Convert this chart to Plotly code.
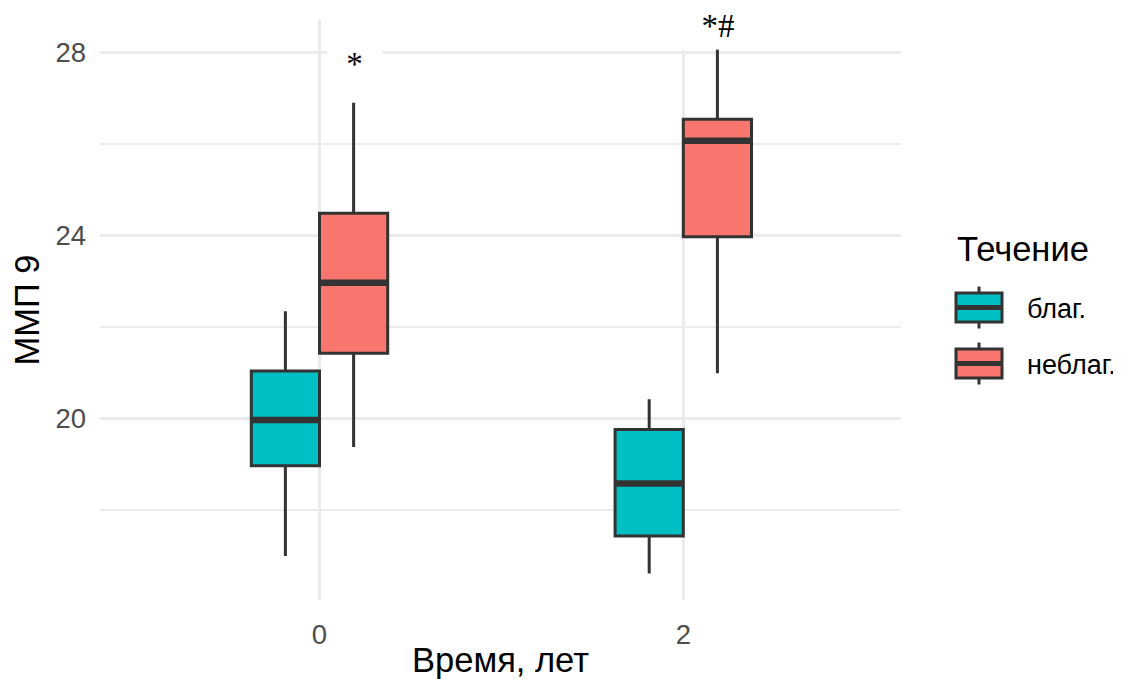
import plotly.graph_objects as go

# ---------------- data ----------------
times = [0, 2]
groups = ["благ.", "неблаг."]
group_colors = ["#00BFC4", "#F8766D"]

blag_low = [16.98, 16.60]
blag_q1 = [18.96, 17.42]
blag_med = [19.96, 18.57]
blag_q3 = [21.03, 19.75]
blag_high = [22.34, 20.41]

nebl_low = [19.37, 20.98]
nebl_q1 = [21.42, 23.97]
nebl_med = [22.96, 26.07]
nebl_q3 = [24.48, 26.54]
nebl_high = [26.90, 28.07]

y_ticks = [20, 24, 28]
x_ticks = [0, 2]
signif_labels = ["*", "*#"]

x_title = "Время, лет"
y_title = "ММП 9"
legend_title = "Течение"

# ---------------- style ----------------
OFF = 8  # page body margin
W, H = 1121 - OFF, 679 - OFF
# plot area in screen pixels
SL, SR, ST, SB = 100, 901, 20, 600
PL, PR, PT, PB = SL - OFF, SR - OFF, ST - OFF, SB - OFF
GRID = "#EBEBEB"
EDGE = "#333333"
TICKC = "#4D4D4D"
SANS = "Liberation Sans, Arial, sans-serif"
SERIF = "Liberation Serif, Times New Roman, serif"
DODGE = 0.75
TICK_SIZE = 27.5
TITLE_SIZE = 34.5
LW = 3

def xp(sx):
    return (sx - SL) / (SR - SL)

def yp(sy):
    return (SB - sy) / (SB - ST)

stats = [
    (blag_low, blag_q1, blag_med, blag_q3, blag_high),
    (nebl_low, nebl_q1, nebl_med, nebl_q3, nebl_high),
]
ngrp = len(groups)
bw = DODGE / ngrp

fig = go.Figure()
for gi, (name, col, (lo, q1, md, q3, hi)) in enumerate(zip(groups, group_colors, stats)):
    fig.add_trace(go.Box(
        x=times, q1=q1, median=md, q3=q3, lowerfence=lo, upperfence=hi,
        name=name, fillcolor=col, line=dict(color=EDGE, width=LW),
        whiskerwidth=0, boxpoints=False, showlegend=False, hoverinfo="skip",
    ))

# thicker median lines (ggplot style)
for gi, (lo, q1, md, q3, hi) in enumerate(stats):
    off = -DODGE / 2 + (gi + 0.5) * bw
    xs, ys = [], []
    for t, m in zip(times, md):
        xs += [t + off - bw / 2, t + off + bw / 2, None]
        ys += [m, m, None]
    fig.add_trace(go.Scatter(x=xs, y=ys, mode="lines",
                             line=dict(color=EDGE, width=6.5),
                             showlegend=False, hoverinfo="skip"))

# significance labels with white background (screen px)
sig_boxes = [  # (center x, center y, width, height)
    (354.5, 64, 55, 68),
    (718, 26, 84, 46),
]
for lab, (cx, cy, bwpx, bhpx) in zip(signif_labels, sig_boxes):
    fig.add_annotation(x=xp(cx), y=yp(cy), xref="paper", yref="paper",
                       text=lab, showarrow=False, xanchor="center", yanchor="middle",
                       width=bwpx, height=bhpx, bgcolor="white", borderpad=0,
                       font=dict(family=SERIF, size=33, color="black"))

# custom legend (screen px)
fig.add_annotation(x=xp(955), y=yp(249), xref="paper", yref="paper",
                   text=legend_title, showarrow=False, xanchor="left", yanchor="middle",
                   font=dict(family=SANS, size=TITLE_SIZE, color="black"))
key_centers = [307.5, 363.5]
for name, col, cy in zip(groups, group_colors, key_centers):
    x0, x1 = 956, 1002
    xm = (x0 + x1) / 2
    fig.add_shape(type="line", xref="paper", yref="paper",
                  x0=xp(xm), x1=xp(xm), y0=yp(cy - 21), y1=yp(cy + 21),
                  line=dict(color=EDGE, width=LW))
    fig.add_shape(type="rect", xref="paper", yref="paper",
                  x0=xp(x0), x1=xp(x1), y0=yp(cy - 14.5), y1=yp(cy + 14.5),
                  fillcolor=col, line=dict(color=EDGE, width=LW))
    fig.add_shape(type="line", xref="paper", yref="paper",
                  x0=xp(x0), x1=xp(x1), y0=yp(cy), y1=yp(cy),
                  line=dict(color=EDGE, width=5))
    fig.add_annotation(x=xp(1025), y=yp(cy + 1), xref="paper", yref="paper",
                       text=name, showarrow=False, xanchor="left", yanchor="middle",
                       font=dict(family=SANS, size=27, color="black"))

x_lo = (SL - 319.5) / 181.9
x_hi = (SR - 319.5) / 181.9

fig.update_layout(
    width=W, height=H,
    margin=dict(l=PL, r=W - PR, t=PT, b=H - PB, autoexpand=False),
    paper_bgcolor="white", plot_bgcolor="white",
    boxmode="group", boxgap=1 - DODGE / 2, boxgroupgap=0,
    showlegend=False,
    font=dict(family=SANS),
    xaxis=dict(range=[x_lo, x_hi], tickvals=x_ticks, ticktext=[str(v) for v in x_ticks],
               showgrid=True, gridcolor=GRID, gridwidth=2.5, zeroline=False,
               showline=False, ticks="", ticklabelstandoff=15,
               tickfont=dict(family=SANS, size=TICK_SIZE, color=TICKC),
               title=dict(text=x_title, font=dict(family=SANS, size=TITLE_SIZE, color="black"), standoff=13)),
    yaxis=dict(range=[16.02, 28.71], tickvals=y_ticks, ticktext=[str(v) for v in y_ticks],
               showgrid=True, gridcolor=GRID, gridwidth=2.5, zeroline=False,
               showline=False, ticks="", ticklabelstandoff=13,
               minor=dict(tickvals=[18, 22, 26], showgrid=True, gridcolor=GRID, gridwidth=2),
               tickfont=dict(family=SANS, size=TICK_SIZE, color=TICKC),
               title=dict(text=y_title, font=dict(family=SANS, size=TITLE_SIZE, color="black"), standoff=12)),
)

fig.write_html("out.html")
